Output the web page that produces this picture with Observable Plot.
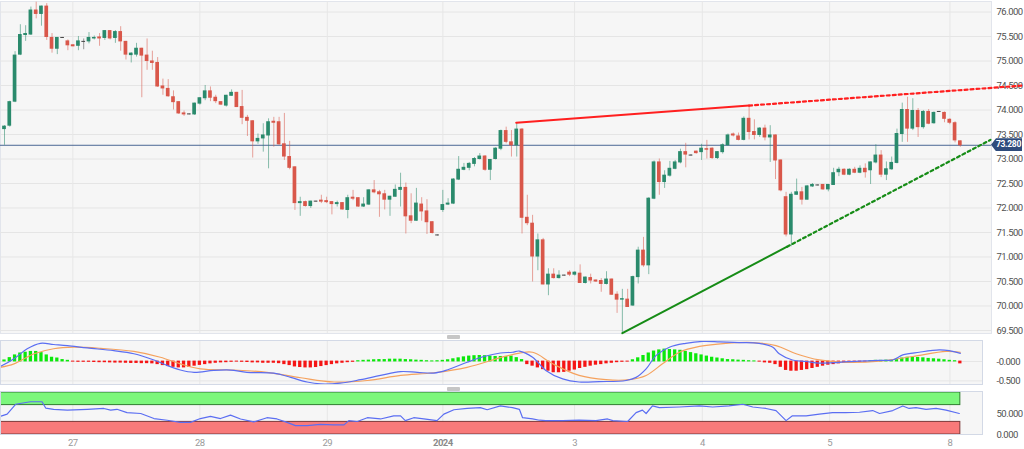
<!DOCTYPE html>
<html><head><meta charset="utf-8">
<script src="https://cdn.jsdelivr.net/npm/d3@7"></script>
<script src="https://cdn.jsdelivr.net/npm/@observablehq/plot@0.6"></script>
<style>
html,body{margin:0;padding:0;background:#fff;width:1024px;height:449px;overflow:hidden;font-family:Roboto,sans-serif}
#wrap{position:relative;width:1024px;height:449px}
.pane{position:absolute;left:0}
.handle{position:absolute;left:447px;width:13px;height:4px;background:#c6c6c6;border-radius:1px}
.pane svg text{letter-spacing:-0.5px}
#lastPrice{position:absolute;left:991px;width:31px;height:13px;background:#2e4b7c;color:#fff;font:bold 8.5px Roboto,sans-serif;letter-spacing:-0.3px;line-height:13px;text-align:center;padding-left:4px;box-sizing:border-box;clip-path:polygon(0 50%,5px 0,100% 0,100% 100%,5px 100%)}
</style></head><body><div id="wrap"></div>
<script>
// ---- candles (hourly) ----
const open = [73.61,73.68,74.17,75.13,75.53,75.54,76.03,75.96,76.11,75.47,
75.25,75.47,75.40,75.32,75.31,75.39,75.40,75.46,75.48,75.47,
75.61,75.47,75.59,75.39,75.12,75.13,75.25,75.11,74.99,74.96,
74.48,74.43,74.26,74.16,73.93,73.91,73.91,74.13,74.24,74.38,
74.25,74.16,74.09,74.29,74.35,74.06,73.84,73.77,73.36,73.42,
73.48,73.76,73.75,73.30,73.04,72.83,72.10,72.12,72.04,72.13,
72.15,72.14,72.12,72.08,72.10,71.96,72.21,72.20,72.03,72.07,
72.36,72.32,72.28,72.17,72.23,72.37,72.41,71.83,71.74,72.07,
71.93,71.71,71.44,71.96,72.07,72.09,72.58,72.78,72.82,72.90,
73.00,73.05,72.78,73.00,73.21,73.57,73.34,73.28,73.60,71.80,
71.68,71.01,71.34,70.44,70.64,70.57,70.62,70.68,70.64,70.66,
70.47,70.57,70.52,70.51,70.45,70.54,70.23,70.13,70.13,70.01,
70.59,71.13,70.83,72.19,72.93,72.53,72.66,72.80,72.93,73.14,
73.07,73.15,73.14,73.20,73.21,73.02,73.14,73.28,73.50,73.46,
73.39,73.82,73.55,73.49,73.62,73.44,73.48,72.97,72.22,71.46,
72.27,72.32,72.17,72.44,72.46,72.47,72.38,72.47,72.73,72.78,
72.68,72.78,72.72,72.80,72.77,72.93,73.07,72.68,72.79,72.92,
73.51,74.00,73.62,73.98,73.65,73.96,73.73,73.96,73.94,73.80,
73.73,73.36];
const high = [73.68,74.18,75.19,75.74,75.72,76.10,76.20,76.12,76.17,75.56,
75.48,75.48,75.43,75.33,75.50,75.45,75.58,75.51,75.56,75.62,
75.62,75.62,75.70,75.40,75.17,75.36,75.26,75.45,75.20,75.07,
74.63,74.62,74.39,74.17,73.98,73.92,74.14,74.25,74.50,74.47,
74.30,74.17,74.30,74.41,74.36,74.40,73.89,73.78,73.51,73.72,
73.82,73.85,73.85,73.93,73.36,72.84,72.22,72.14,72.14,72.14,
72.26,72.22,72.13,72.14,72.11,72.26,72.36,72.21,72.21,72.37,
72.56,72.36,72.36,72.24,72.47,72.71,72.51,72.29,72.40,72.21,
72.17,71.72,71.45,72.36,72.19,72.60,73.05,72.91,72.93,73.03,
73.11,73.07,72.99,73.23,73.59,73.65,73.58,73.74,73.62,72.26,
71.85,71.47,71.38,70.76,70.76,70.72,70.63,70.72,70.70,70.84,
70.59,70.65,70.53,70.56,70.70,70.55,70.29,70.34,70.34,70.61,
71.20,71.40,72.21,72.96,73.00,72.76,72.95,72.97,73.20,73.32,
73.09,73.16,73.30,73.38,73.23,73.15,73.31,73.51,73.53,73.53,
73.86,74.09,73.80,73.64,73.69,73.68,73.49,72.98,72.32,72.32,
72.59,72.42,72.46,72.50,72.47,72.48,72.48,72.81,72.83,72.80,
72.80,72.83,72.86,72.90,72.94,73.29,73.17,72.94,73.04,73.61,
74.14,74.26,74.23,74.03,73.99,74.01,73.96,73.97,73.96,73.82,
73.76,73.37];
const low = [73.28,73.65,74.15,75.11,75.40,75.52,75.86,75.71,75.42,75.16,
75.13,75.46,75.21,75.29,75.21,75.23,75.35,75.43,75.30,75.42,
75.43,75.36,75.20,75.02,74.96,75.08,74.25,74.81,74.81,74.46,
74.30,74.26,74.00,73.91,73.87,73.90,73.89,74.10,74.19,74.17,
74.13,74.09,74.06,74.28,74.05,73.70,73.46,73.02,73.30,73.14,
72.80,73.24,73.28,72.97,72.78,71.95,71.83,72.02,71.99,72.12,
72.09,72.09,71.86,72.02,71.96,71.78,72.15,72.01,72.01,72.05,
72.29,71.81,71.96,71.83,72.22,72.02,71.47,71.68,71.73,71.73,
71.46,71.47,71.43,71.91,72.05,72.07,72.56,72.76,72.76,72.84,
72.98,72.75,72.56,72.98,73.17,73.31,73.04,73.04,71.47,71.64,
70.49,70.72,70.43,70.21,70.55,70.55,70.61,70.60,70.61,70.46,
70.45,70.45,70.48,70.28,70.43,70.22,69.85,69.45,69.97,69.99,
70.45,70.79,70.64,72.17,72.26,72.40,72.63,72.78,72.90,72.82,
73.06,73.10,72.97,73.00,72.99,72.99,73.10,73.26,73.45,73.37,
73.37,73.39,73.39,73.44,73.37,72.93,72.58,72.33,71.41,71.21,
72.26,72.06,72.16,72.42,72.45,72.36,72.33,72.46,72.64,72.66,
72.66,72.70,72.70,72.61,72.48,72.90,72.62,72.56,72.77,72.90,
73.34,73.34,73.58,73.44,73.61,73.70,73.71,73.95,73.74,73.70,
73.33,73.24];
const close = [73.66,74.16,75.11,75.53,75.55,76.03,75.96,76.11,75.49,75.25,
75.47,75.47,75.32,75.30,75.40,75.39,75.47,75.47,75.46,75.61,
75.46,75.59,75.40,75.13,75.15,75.25,75.11,75.00,74.96,74.48,
74.44,74.28,74.16,73.93,73.91,73.91,74.13,74.24,74.38,74.25,
74.18,74.11,74.29,74.35,74.06,73.84,73.78,73.36,73.41,73.48,
73.75,73.74,73.30,73.05,72.82,72.10,72.12,72.04,72.13,72.13,
72.13,72.12,72.08,72.10,71.97,72.20,72.19,72.03,72.07,72.36,
72.32,72.28,72.17,72.23,72.37,72.41,71.83,71.74,72.09,71.93,
71.71,71.49,71.44,72.06,72.09,72.58,72.78,72.82,72.90,73.00,
73.05,72.78,72.98,73.21,73.57,73.35,73.28,73.60,71.80,71.69,
71.01,71.34,70.44,70.64,70.57,70.62,70.62,70.64,70.68,70.47,
70.58,70.52,70.50,70.45,70.54,70.23,70.13,70.14,69.98,70.59,
71.13,70.83,72.19,72.93,72.53,72.66,72.80,72.93,73.14,73.09,
73.07,73.12,73.21,73.19,73.02,73.14,73.28,73.48,73.48,73.39,
73.82,73.55,73.49,73.62,73.44,73.48,72.97,72.36,71.46,72.27,
72.32,72.17,72.44,72.47,72.46,72.38,72.47,72.71,72.78,72.68,
72.78,72.72,72.80,72.73,72.93,73.07,72.68,72.79,72.92,73.51,
74.00,73.62,73.98,73.65,73.96,73.72,73.94,73.96,73.82,73.74,
73.38,73.28];

// ---- MACD ----
const macdHist = [0.03,0.09,0.16,0.21,0.23,0.25,0.25,0.22,0.16,0.10,0.08,0.04,0.02,
-0.005,-0.01,-0.01,-0.01,-0.015,-0.02,-0.02,-0.025,-0.03,-0.03,-0.035,-0.04,-0.04,-0.045,-0.045,
-0.05,-0.07,-0.095,-0.12,-0.14,-0.155,-0.155,-0.14,-0.11,-0.09,-0.07,-0.05,-0.035,-0.025,-0.02,-0.01,-0.005,-0.01,-0.015,
-0.025,-0.025,-0.035,-0.035,-0.035,-0.045,-0.07,-0.095,-0.13,-0.145,-0.155,-0.155,-0.145,-0.12,-0.095,-0.07,-0.05,-0.035,-0.02,-0.01,
0.01,0.02,0.025,0.035,0.04,0.04,0.05,0.05,0.05,0.04,0.035,0.025,0.02,0.01,0.005,0.01,0.02,0.035,0.06,0.085,0.11,0.13,0.14,0.145,0.14,0.13,0.12,0.12,0.12,0.13,0.09,0.04,
-0.07,-0.11,-0.155,-0.2,-0.24,-0.28,-0.28,-0.27,-0.24,-0.21,-0.17,-0.14,-0.11,-0.085,-0.07,-0.05,-0.035,-0.02,-0.01,-0.005,
0.035,0.085,0.145,0.21,0.26,0.29,0.31,0.30,0.29,0.28,0.25,0.22,0.19,0.16,0.13,0.10,0.08,0.06,0.04,0.035,0.025,0.02,0.01,0.005,-0.005,
-0.025,-0.035,-0.07,-0.14,-0.22,-0.24,-0.24,-0.22,-0.2,-0.17,-0.14,-0.11,-0.085,-0.07,-0.05,-0.035,-0.025,-0.02,-0.01,-0.005,
0.01,0.02,0.02,0.025,0.025,0.04,0.08,0.10,0.10,0.095,0.085,0.07,0.06,0.05,0.035,0.02,0.01,-0.05];
const macdIdx = [-0.8,1.8,4.3,6.8,9.3,11.9,15.7,20.7,24.5,28.3,30.8,33.3,35.9,39.6,42.8,45.9,51,54.2,57.3,59.8,63.6,67.4,71.2,75,78.2,81.3,83.8,87.6,90.8,93.9,96.2,97.5,100,102.5,105.7,108.8,112.6,117.7,119.6,121.5,123.4,125.9,129,132.2,135.4,139.1,142.9,145.5,146.7,149.2,151.8,154.3,158.1,161.9,165.7,168.2,170.1,173.2,177,178.9,181];
const macdVal = [-0.13,0.07,0.33,0.47,0.44,0.41,0.35,0.28,0.20,0.04,-0.10,-0.22,-0.28,-0.23,-0.22,-0.28,-0.30,-0.41,-0.53,-0.58,-0.56,-0.47,-0.36,-0.26,-0.28,-0.30,-0.22,-0.02,0.13,0.22,0.24,0.27,0.11,-0.23,-0.45,-0.53,-0.52,-0.49,-0.41,-0.19,0.16,0.37,0.47,0.52,0.51,0.49,0.47,0.37,0.20,0.04,0.00,-0.04,-0.02,0.01,0.03,0.04,0.17,0.24,0.30,0.28,0.21];
const signalIdx = [-0.8,1.8,5.6,9.3,13.1,18.2,24.5,29.5,33.3,37.1,43.4,49.7,56.1,62.4,68.7,75,81.3,87.6,93.9,96.2,100,103.8,108.8,113.9,118.3,121.5,124.6,127.8,131.6,136.6,141.7,146.1,149.9,154.3,159.3,165.7,172,178.3,181];
const signalVal = [-0.15,-0.06,0.20,0.33,0.37,0.34,0.26,0.11,-0.06,-0.19,-0.22,-0.28,-0.42,-0.53,-0.49,-0.36,-0.29,-0.15,0.10,0.18,0.24,-0.06,-0.36,-0.47,-0.47,-0.36,-0.06,0.24,0.39,0.47,0.49,0.41,0.20,0.04,-0.02,0.01,0.13,0.26,0.24];

// ---- RSI ----
const rsiIdx = [-0.8,0.5,2.1,4.9,7.1,7.8,9.3,11.9,15.7,18.8,20.1,21.3,23.2,25.8,28.3,30.8,33.3,35.2,37.1,39,40.9,42.8,44.7,47.2,49.7,51.6,53.5,55.1,57.3,59.8,62.4,64.3,65.2,66.8,68.7,71.2,73.7,75,75.9,77.5,79.4,81.9,83.2,85.1,87.6,90.1,91.4,93.9,96.2,97.5,98.1,100,101.3,102.5,105.7,108.8,112,114.2,115.2,118,119.6,120.8,121.5,122.7,124,127.8,131.6,134.1,137.2,139.8,141.7,144.2,146.1,148,149.2,151.8,154.3,156.8,159.3,161.9,164.4,165.7,168.2,170.1,171.3,172.6,174.5,176.4,178.3,180.8];
const rsiVal = [43,48.5,72,78,78,63,60,58,60,62,58,60,52,50,38,34,29,29,38,43,38,46,37,30,40,37,29,21,21,24,23,23,33,31,40,37,44.5,44.5,33,40,37,33,48.5,59,62,64,59,68,64,60,40,37,34,33,33,34,33,37,33,31,52,58,50,68,64,65.5,68,65.5,68,72,65.5,62,57,33,44.5,44.5,48.5,52,52,53,57,50,57,68,62,64,60,62,58,50];
const rsiUpperBand = [70, 100];
const rsiLowerBand = [0, 30];

// ---- trendlines (anchor index, price) ----
const resistanceIdx = [96.9, 141, 193];
const resistanceVal = [73.74, 74.09, 74.50];
const supportIdx = [117, 148.2, 186.7];
const supportVal = [69.445, 71.21, 73.39];

// ---- ticks ----
const priceTicks = [69.5,70,70.5,71,71.5,72,72.5,73,73.5,74,74.5,75,75.5,76];
const macdTickVal = [0, -0.5];
const macdTickLabel = ["-0.000", "-0.500"];
const rsiTickVal = [50, 0];
const rsiTickLabel = ["50.000", "0.000"];
const dayTickIdx = [12.94, 36.99, 61.12, 83.01, 107.95, 132.14, 156.25, 179.03];
const dayTickLabel = ["27", "28", "29", "2024", "3", "4", "5", "8"];

// ---- build ----
const UP = "#2a8a6c", DOWN = "#d9574a", DOJI = "#454545";
const candles = open.map((o, i) => ({i, o, h: high[i], l: low[i], c: close[i]}));
const colorOf = d => d.c > d.o ? UP : d.c < d.o ? DOWN : DOJI;
const lastClose = close[close.length - 1];
const lastIdx = close.length - 1;

const xMin = -0.758, xMaxMain = 186.9;
const xMaxSub = xMin + (xMaxMain - xMin) * 982 / 991;
const font = "Roboto, sans-serif";
const seg = (idx, val, a, b) => [{i: idx[a], p: val[a]}, {i: idx[b], p: val[b]}];
const pairs = (idx, val) => idx.map((x, k) => ({i: x, v: val[k]}));
const axisStyle = {background: "transparent", fontFamily: font, fontSize: "9.5px", color: "#505050", overflow: "visible"};

const mainPlot = Plot.plot({
  width: 1024, height: 334, marginLeft: 0, marginRight: 33, marginTop: 1, marginBottom: 1,
  style: axisStyle,
  x: {domain: [xMin, xMaxMain], axis: null},
  y: {domain: [69.439, 76.214], axis: "right", ticks: priceTicks, tickFormat: d3.format(".3f"), tickSize: 0, tickPadding: 5, label: null},
  color: {type: "identity"},
  marks: [
    Plot.frame({fill: "#f6f6f6", stroke: "#e2e5ec"}),
    Plot.ruleY(priceTicks, {stroke: "#e5e5e5"}),
    Plot.ruleX(dayTickIdx, {stroke: "#e7e7e7"}),
    Plot.ruleY([lastClose], {stroke: "#4b6795", strokeWidth: 1}),
    Plot.ruleX(candles, {x: "i", y1: "l", y2: "h", stroke: colorOf, strokeOpacity: 0.55, strokeWidth: 1}),
    Plot.rect(candles, {x1: d => d.i - 0.35, x2: d => d.i + 0.35, y1: "o", y2: "c", fill: colorOf, insetTop: -0.5, insetBottom: -0.5}),
    Plot.line(seg(resistanceIdx, resistanceVal, 0, 1), {x: "i", y: "p", stroke: "#ff1f1f", strokeWidth: 2}),
    Plot.line(seg(resistanceIdx, resistanceVal, 1, 2), {x: "i", y: "p", stroke: "#ff1f1f", strokeWidth: 2.2, strokeDasharray: "3,3"}),
    Plot.line(seg(supportIdx, supportVal, 0, 1), {x: "i", y: "p", stroke: "#168c16", strokeWidth: 2}),
    Plot.line(seg(supportIdx, supportVal, 1, 2), {x: "i", y: "p", stroke: "#168c16", strokeWidth: 2.2, strokeDasharray: "3,3"})
  ]
});

const macdPlot = Plot.plot({
  width: 1024, height: 46, marginLeft: 0, marginRight: 42, marginTop: 1, marginBottom: 1,
  style: axisStyle,
  x: {domain: [xMin, xMaxSub], axis: null},
  y: {domain: [-0.594, 0.543], axis: "right", ticks: macdTickVal, tickFormat: d => macdTickLabel[macdTickVal.indexOf(d)], tickSize: 0, tickPadding: 14, label: null},
  color: {type: "identity"},
  marks: [
    Plot.frame({fill: "#f6f6f6", stroke: null}),
    Plot.ruleY(macdTickVal, {stroke: "#e6e6e6"}),
    Plot.ruleX(dayTickIdx, {stroke: "#e7e7e7"}),
    Plot.rect(macdHist.map((v, i) => ({i, v})), {x1: d => d.i - 0.31, x2: d => d.i + 0.31, y1: 0, y2: "v", fill: d => d.v >= 0 ? "#0be80b" : "#f51515", insetTop: -0.4, insetBottom: -0.4}),
    Plot.line(pairs(signalIdx, signalVal), {x: "i", y: "v", stroke: "#f5a25e", strokeWidth: 1.2, curve: "catmull-rom"}),
    Plot.line(pairs(macdIdx, macdVal), {x: "i", y: "v", stroke: "#5b6ef2", strokeWidth: 1.2, curve: "catmull-rom"}),
    Plot.frame({stroke: "#d3d9e6"})
  ]
});

const rsiPlot = Plot.plot({
  width: 1024, height: 59, marginLeft: 0, marginRight: 42, marginTop: 1, marginBottom: 15,
  style: axisStyle,
  x: {domain: [xMin, xMaxSub], axis: "bottom", ticks: dayTickIdx, tickFormat: d => dayTickLabel[dayTickIdx.indexOf(d)], tickSize: 0, tickPadding: 5, label: null},
  y: {domain: [0, 102.4], axis: "right", ticks: rsiTickVal, tickFormat: d => rsiTickLabel[rsiTickVal.indexOf(d)], tickSize: 0, tickPadding: 14, label: null},
  color: {type: "identity"},
  marks: [
    Plot.frame({fill: "#f6f6f6", stroke: null}),
    Plot.ruleX(dayTickIdx, {stroke: "#e7e7e7"}),
    Plot.rect([rsiUpperBand], {x1: xMin - 1, x2: lastIdx, y1: d => d[0], y2: d => d[1], fill: "#7cf77c", stroke: "#2f7d2f", strokeWidth: 1, clip: true}),
    Plot.rect([rsiLowerBand], {x1: xMin - 1, x2: lastIdx, y1: d => d[0], y2: d => d[1], fill: "#f87a7a", stroke: "#7c3a3a", strokeWidth: 1, clip: true}),
    Plot.line(pairs(rsiIdx, rsiVal), {x: "i", y: "v", stroke: "#5b6ef2", strokeWidth: 1.2}),
    Plot.frame({stroke: "#d3d9e6"})
  ]
});

const wrap = document.getElementById("wrap");
function place(node, top) {
  const d = document.createElement("div");
  d.className = "pane"; d.style.top = top + "px";
  d.appendChild(node); wrap.appendChild(d);
}
place(mainPlot, 0);
place(macdPlot, 339);
place(rsiPlot, 390);
[335, 387].forEach(t => {
  const h = document.createElement("div"); h.className = "handle"; h.style.top = t + "px"; wrap.appendChild(h);
});

rsiPlot.querySelectorAll('[aria-label^="x-axis"] text').forEach(t => {
  t.setAttribute("fill", "#9a9a9a");
  if (t.textContent === "2024") { t.setAttribute("font-weight", "bold"); t.setAttribute("fill", "#8a8a8a"); }
});

// last-price tag placed through the main plot's y scale
const yScale = mainPlot.scale("y");
const tag = document.createElement("div");
tag.id = "lastPrice";
tag.textContent = d3.format(".3f")(lastClose);
tag.style.top = (yScale.apply(lastClose) - 6.5) + "px";
wrap.appendChild(tag);
</script>
</body></html>
